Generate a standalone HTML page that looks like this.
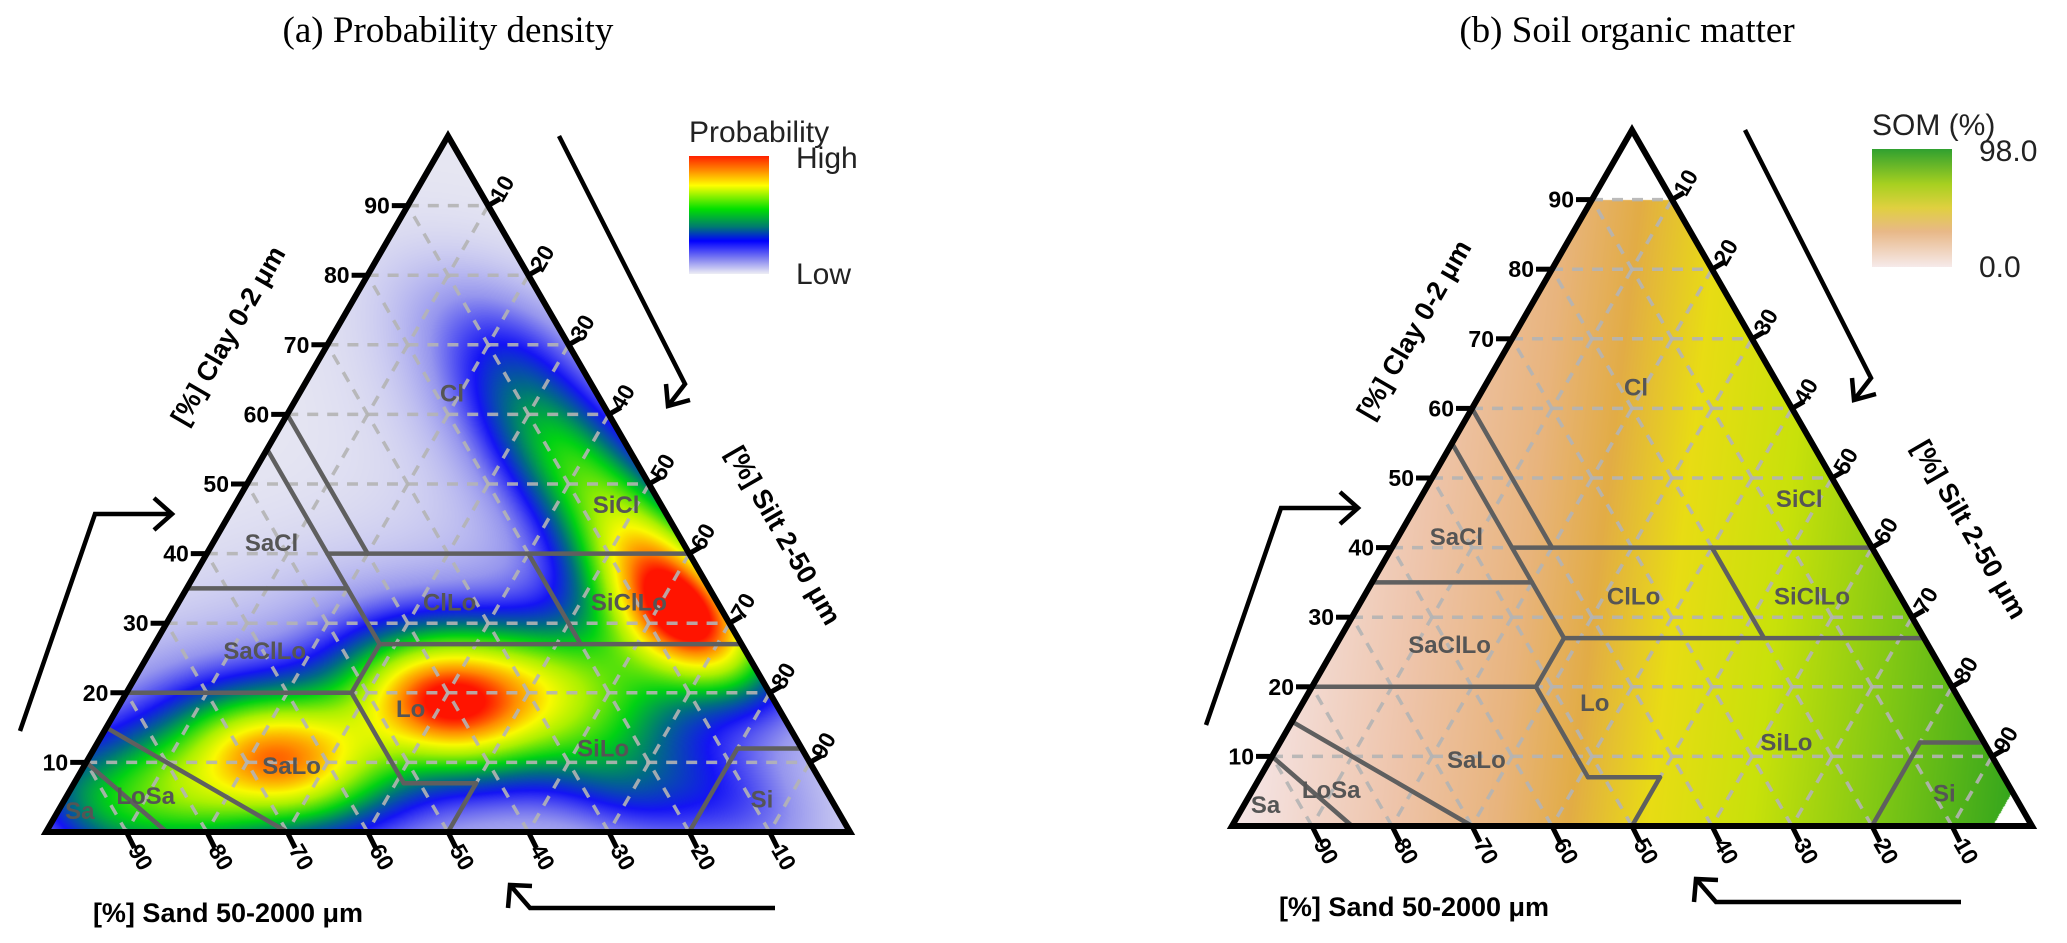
<!DOCTYPE html>
<html><head><meta charset="utf-8">
<style>
html,body{margin:0;padding:0;background:#fff;}
#wrap{position:relative;width:2067px;height:943px;overflow:hidden;background:#fff;}
canvas,svg{position:absolute;left:0;top:0;}
</style></head>
<body>
<div id="wrap">
<canvas id="cv" width="2067" height="943"></canvas>
<svg id="sv" width="2067" height="943"></svg>
</div>
<script>
// ---- data ----
const tickValues = [10,20,30,40,50,60,70,80,90];
const classNames = ["Cl","SaCl","SiCl","ClLo","SiClLo","SaClLo","Lo","SaLo","SiLo","Si","LoSa","Sa"];
const classClay  = [63,41.5,47,33,33,26,17.7,9.5,12,4.7,5.2,3];
const classSilt  = [19,7.3,47.4,33.7,56,14.2,36.5,25.8,63.3,86.7,9.8,2.7];
const boundaries = [
 [45,55,45,27],[65,35,45,35],[45,40,20,40],[40,60,40,40],[20,40,0,40],
 [20,40,20,27],[45,27,0,27],[80,20,52,20],[52,20,45,27],[52,20,52,7],
 [52,7,43,7],[43,7,50,0],[20,0,8,12],[8,12,0,12],[85,15,70,0],[90,10,85,0]
];
const blobSand  = [92,80,68,58,45,38,30,20,6,4,5,8,9,8,25,12];
const blobClay  = [3,6,10,13,17,20,22,22,28,34,42,52,61,71,8,5];
const blobWeight= [0.55,0.65,0.95,0.65,0.78,0.72,0.5,0.45,0.88,0.65,0.55,0.45,0.35,0.25,0.35,0.25];
const somSiltCoef = 1.0;
const somClayCoef = 0.40;

const panels = [
 {id:"a", L:46, B:832, W:804, H:696},
 {id:"b", L:1232, B:826, W:800, H:696}
];
const NS="http://www.w3.org/2000/svg";
const sv=document.getElementById('sv');
function el(tag,attrs,parent){const e=document.createElementNS(NS,tag);for(const k in attrs)e.setAttribute(k,attrs[k]);(parent||sv).appendChild(e);return e;}
function pt(p,sand,clay){const silt=100-sand-clay;return [p.L+p.W*(silt+clay/2)/100, p.B-p.H*clay/100];}

const rainbow=[[0,[232,232,242]],[0.15,[150,150,238]],[0.3,[20,20,245]],[0.42,[0,110,130]],[0.54,[0,210,20]],[0.68,[170,240,0]],[0.78,[250,250,0]],[0.9,[255,140,0]],[1,[255,20,0]]];
const somMap=[[0,[245,230,232]],[0.2,[238,196,170]],[0.33,[232,180,125]],[0.42,[226,172,70]],[0.52,[232,220,20]],[0.65,[200,225,10]],[0.8,[130,200,20]],[1,[40,160,30]]];
function cmap(m,v){v=Math.max(0,Math.min(1,v));for(let i=1;i<m.length;i++){if(v<=m[i][0]){const t=(v-m[i-1][0])/(m[i][0]-m[i-1][0]);const a=m[i-1][1],b=m[i][1];return [a[0]+(b[0]-a[0])*t,a[1]+(b[1]-a[1])*t,a[2]+(b[2]-a[2])*t];}}return m[m.length-1][1];}

const cv=document.getElementById('cv');const ctx=cv.getContext('2d');
const img=ctx.createImageData(2067,943);const d=img.data;
for(let i=0;i<d.length;i+=4){d[i]=d[i+1]=d[i+2]=255;d[i+3]=255;}
panels.forEach((p,pi)=>{
 for(let y=Math.floor(p.B-p.H);y<=p.B;y++){
  for(let x=p.L;x<=p.L+p.W;x++){
   const clay=(p.B-y)/p.H*100; const silt=(x-p.L)/p.W*100-clay/2; const sand=100-silt-clay;
   if(clay<0||silt<0||sand<0)continue;
   let c;
   if(pi===0){
     let s=0;
     for(let k=0;k<blobSand.length;k++){const ds=sand-blobSand[k],dc=clay-blobClay[k];const r2=ds*ds+dc*dc;
       s+=blobWeight[k]*(Math.exp(-r2/(2*6.8*6.8))+0.13*Math.exp(-r2/(2*13*13)));}
     c=cmap(rainbow,Math.min(1,s*0.6));
   } else {
     if(clay>90||silt>95)continue;
     c=cmap(somMap,somSiltCoef*silt/100+somClayCoef*clay/100);
   }
   const o=(y*2067+x)*4;d[o]=c[0];d[o+1]=c[1];d[o+2]=c[2];
  }
 }
});
ctx.putImageData(img,0,0);

[["(a) Probability density",448],["(b) Soil organic matter",1627]].forEach((t,i)=>{
 const e=el('text',{x:t[1],y:42,'text-anchor':'middle','font-family':'Liberation Serif, serif','font-size':37,fill:'#000'});
 e.textContent=t[0];
 
 
});

panels.forEach((p,pi)=>{
 const g=el('g',{});
 
 
 tickValues.forEach(v=>{
  const lines=[[pt(p,100-v,v),pt(p,0,v)],[pt(p,v,0),pt(p,v,100-v)],[pt(p,0,100-v),pt(p,100-v,0)]];
  lines.forEach(l=>{const ln=el('line',{x1:l[0][0],y1:l[0][1],x2:l[1][0],y2:l[1][1],stroke:'#b4b4b4','stroke-width':3.5,'stroke-dasharray':'11 9',opacity:0.9},g);
   });
 });
 boundaries.forEach(b=>{const a=pt(p,b[0],b[1]),c=pt(p,b[2],b[3]);
  const ln=el('line',{x1:a[0],y1:a[1],x2:c[0],y2:c[1],stroke:'#5f5f5f','stroke-width':4.5,'stroke-linecap':'round'},g);
  });
 classNames.forEach((n,i)=>{const sand=100-classSilt[i]-classClay[i];const q=pt(p,sand,classClay[i]);
  const t=el('text',{x:q[0],y:q[1]+8,'text-anchor':'middle','font-family':'Liberation Sans, sans-serif','font-weight':'bold','font-size':24,fill:'#555'},g);
  t.textContent=n;});
 const A=pt(p,0,100),Lp=pt(p,100,0),Rp=pt(p,0,0);
 const tri=el('polygon',{points:`${A} ${Lp} ${Rp}`,fill:'none',stroke:'#000','stroke-width':6,'stroke-linejoin':'miter'},g);
 
 tickValues.forEach(v=>{
  let q=pt(p,100-v,v);
  let ln=el('line',{x1:q[0],y1:q[1],x2:q[0]-16,y2:q[1],stroke:'#000','stroke-width':5},g);
  
  let t=el('text',{x:q[0]-18,y:q[1]+8,'text-anchor':'end','font-family':'Liberation Sans, sans-serif','font-weight':'bold','font-size':23,fill:'#000'},g);
  t.textContent=v;
  q=pt(p,0,100-v);
  const ex=q[0]+14*0.866,ey=q[1]-14*0.5;
  ln=el('line',{x1:q[0],y1:q[1],x2:ex,y2:ey,stroke:'#000','stroke-width':5},g);
  
  t=el('text',{x:0,y:0,'text-anchor':'start','font-family':'Liberation Sans, sans-serif','font-weight':'bold','font-size':23,fill:'#000',transform:`translate(${ex+2},${ey+5}) rotate(-60)`},g);
  t.textContent=v;
  q=pt(p,v,0);
  const bx=q[0]+8,by=q[1]+16;
  ln=el('line',{x1:q[0],y1:q[1],x2:bx,y2:by,stroke:'#000','stroke-width':5},g);
  
  t=el('text',{x:0,y:0,'text-anchor':'start','font-family':'Liberation Sans, sans-serif','font-weight':'bold','font-size':23,fill:'#000',transform:`translate(${bx-7},${by+2}) rotate(60)`},g);
  t.textContent=v;
 });
 let t=el('text',{x:0,y:0,'text-anchor':'middle','font-family':'Liberation Sans, sans-serif','font-weight':'bold','font-size':27,fill:'#000',transform:`translate(${p.L+190},${p.B-492}) rotate(-60)`},g);
 t.textContent='[%] Clay 0-2 \u03bcm';
 t=el('text',{x:0,y:0,'text-anchor':'middle','font-family':'Liberation Sans, sans-serif','font-weight':'bold','font-size':27,fill:'#000',transform:`translate(${p.L+730},${p.B-292}) rotate(60)`},g);
 t.textContent='[%] Silt 2-50 \u03bcm';
 t=el('text',{x:p.L+182,y:p.B+90,'text-anchor':'middle','font-family':'Liberation Sans, sans-serif','font-weight':'bold','font-size':27,fill:'#000'},g);
 t.textContent='[%] Sand 50-2000 \u03bcm';
 const arrows=[
  {pts:[[-26,-101],[49,-318],[126,-318]],head:[[108,-334],[126,-318],[108,-302]],name:'clay-direction-arrow'},
  {pts:[[513,-696],[639,-448],[622,-426]],head:[[620,-448],[622,-426],[644,-432]],name:'silt-direction-arrow'},
  {pts:[[729,76],[484,76],[464,53]],head:[[462,76],[464,53],[486,54]],name:'sand-direction-arrow'}
 ];
 arrows.forEach(a=>{
  const pl=el('polyline',{points:a.pts.map(z=>[p.L+z[0],p.B+z[1]].join(',')).join(' '),fill:'none',stroke:'#000','stroke-width':4.5},g);
  
  const hd=el('polyline',{points:a.head.map(z=>[p.L+z[0],p.B+z[1]].join(',')).join(' '),fill:'none',stroke:'#000','stroke-width':4.5},g);
  
 });
});

const defs=el('defs',{});
const g1=el('linearGradient',{id:'gA',x1:0,y1:0,x2:0,y2:1},defs);
[[0,'#ff2000'],[0.12,'#ff8800'],[0.25,'#ffff00'],[0.45,'#00e000'],[0.6,'#007a70'],[0.72,'#0000ff'],[0.87,'#8080f0'],[1,'#eeeef4']].forEach(s=>el('stop',{offset:s[0],'stop-color':s[1]},g1));
const g2=el('linearGradient',{id:'gB',x1:0,y1:0,x2:0,y2:1},defs);
[[0,'#30a030'],[0.3,'#a8d020'],[0.5,'#e0d040'],[0.7,'#e8b888'],[1,'#f6eaea']].forEach(s=>el('stop',{offset:s[0],'stop-color':s[1]},g2));
function legend(x,y,w,h,grad,title,hi,lo,name){
 const g=el('g',{});
 let t=el('text',{x:x,y:y-14,'font-family':'Liberation Sans, sans-serif','font-size':30,fill:'#222'},g);t.textContent=title;
 
 const r=el('rect',{x:x,y:y,width:w,height:h,fill:`url(#${grad})`},g);
 
 t=el('text',{x:x+w+27,y:y+12,'font-family':'Liberation Sans, sans-serif','font-size':30,fill:'#222'},g);t.textContent=hi;
 
 t=el('text',{x:x+w+27,y:y+h+10,'font-family':'Liberation Sans, sans-serif','font-size':30,fill:'#222'},g);t.textContent=lo;
 
}
legend(689,156,80,118,'gA','Probability','High','Low','legend-probability');
legend(1872,149,80,118,'gB','SOM (%)','98.0','0.0','legend-som');
</script>
</body></html>
